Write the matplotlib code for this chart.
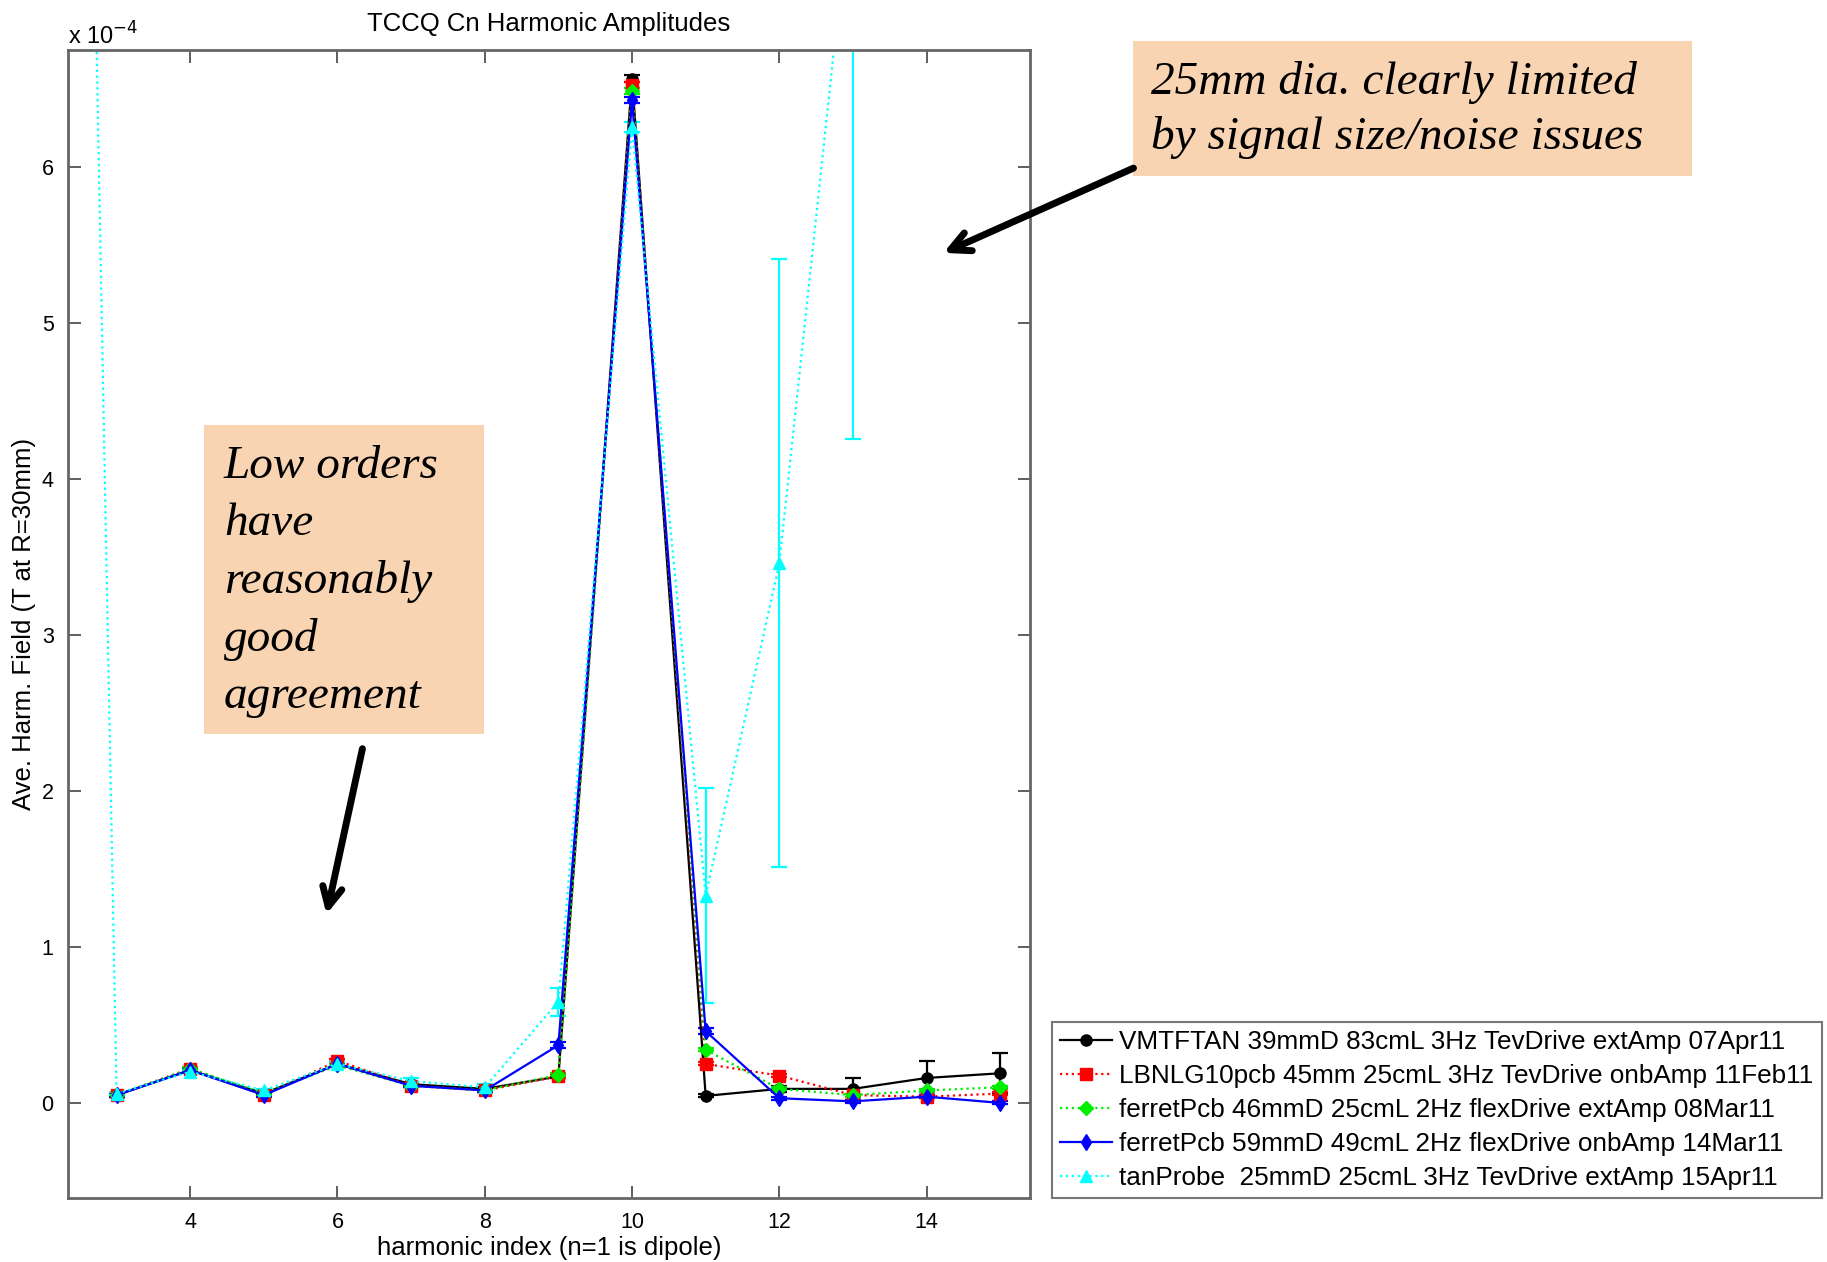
import matplotlib
matplotlib.use('Agg')
import matplotlib.pyplot as plt
from matplotlib.patches import FancyArrowPatch, Rectangle
from matplotlib.lines import Line2D

# ---------------- data (field values in units of 1e-4 T) ----------------
harmonics = [3, 4, 5, 6, 7, 8, 9, 10, 11, 12, 13, 14, 15]

vmtftan = [0.05, 0.21, 0.06, 0.25, 0.12, 0.09, 0.17, 6.57, 0.045, 0.09, 0.09, 0.16, 0.19]
vmtftan_err = [0.01, 0.01, 0.01, 0.01, 0.01, 0.01, 0.01, 0.02, 0.01, 0.02, 0.07, 0.11, 0.13]

lbnl = [0.05, 0.22, 0.05, 0.27, 0.11, 0.08, 0.17, 6.53, 0.25, 0.175, 0.05, 0.04, 0.06]
lbnl_err = [0.01, 0.01, 0.01, 0.01, 0.01, 0.01, 0.01, 0.02, 0.01, 0.01, 0.01, 0.01, 0.01]

ferret46 = [0.05, 0.22, 0.06, 0.24, 0.11, 0.08, 0.18, 6.49, 0.34, 0.09, 0.05, 0.08, 0.10]
ferret46_err = [0.01, 0.01, 0.01, 0.01, 0.01, 0.01, 0.01, 0.02, 0.01, 0.01, 0.01, 0.01, 0.01]

ferret59 = [0.05, 0.21, 0.05, 0.25, 0.11, 0.08, 0.37, 6.43, 0.46, 0.03, 0.01, 0.04, 0.00]
ferret59_err = [0.01, 0.01, 0.01, 0.01, 0.01, 0.01, 0.02, 0.02, 0.02, 0.01, 0.01, 0.01, 0.01]

tan_harmonics = [2, 3, 4, 5, 6, 7, 8, 9, 10, 11, 12, 13, 14, 15]
tanprobe = [24.8, 0.06, 0.20, 0.08, 0.25, 0.14, 0.10, 0.65, 6.26, 1.33, 3.46, 7.9, 9.6, 11.0]
tanprobe_err = [2.0, 0.01, 0.01, 0.01, 0.01, 0.02, 0.02, 0.09, 0.03, 0.69, 1.95, 3.64, 1.5, 1.8]

labels = [
    "VMTFTAN 39mmD 83cmL 3Hz TevDrive extAmp 07Apr11",
    "LBNLG10pcb 45mm 25cmL 3Hz TevDrive onbAmp 11Feb11",
    "ferretPcb 46mmD 25cmL 2Hz flexDrive extAmp 08Mar11",
    "ferretPcb 59mmD 49cmL 2Hz flexDrive onbAmp 14Mar11",
    "tanProbe  25mmD 25cmL 3Hz TevDrive extAmp 15Apr11",
]
xticks = [4, 6, 8, 10, 12, 14]
yticks = [0, 1, 2, 3, 4, 5, 6]

note_top = "25mm dia. clearly limited\nby signal size/noise issues"
note_low = "Low orders\nhave\nreasonably\ngood\nagreement"

# ---------------- figure ----------------
plt.rcParams['font.family'] = ['Liberation Sans', 'DejaVu Sans']
fig = plt.figure(figsize=(18.27, 12.62), dpi=100)
ax = fig.add_axes([0.037, 0.0507, 0.527, 0.9093])

series = [
    (harmonics, vmtftan, vmtftan_err, dict(color='black', ls='-', marker='o', ms=8)),
    (harmonics, lbnl, lbnl_err, dict(color='red', ls=':', marker='s', ms=8)),
    (harmonics, ferret46, ferret46_err, dict(color='#00ee00', ls=':', marker='D', ms=7)),
    (harmonics, ferret59, ferret59_err, dict(color='blue', ls='-', marker='d', ms=8)),
    (tan_harmonics, tanprobe, tanprobe_err, dict(color='cyan', ls=':', marker='^', ms=9)),
]
handles = []
for (x, y, e, st), lab in zip(series, labels):
    ax.errorbar(x, y, yerr=e, color=st['color'], ls=st['ls'], lw=1.6,
                marker=st['marker'], ms=st['ms'], mfc=st['color'], mec=st['color'],
                capsize=6, elinewidth=1.6, capthick=1.6)
    handles.append(Line2D([], [], color=st['color'], ls=st['ls'], lw=1.6,
                          marker=st['marker'], ms=st['ms'], mfc=st['color'],
                          mec=st['color']))

ax.set_xlim(2.335, 15.41)
ax.set_ylim(-0.61, 6.75)
ax.set_xticks(xticks)
ax.set_yticks(yticks)
ax.tick_params(direction='in', length=9, width=1.2, labelsize=15.5, top=True, right=True,
               color='#444444', pad=10)
for s in ax.spines.values():
    s.set_color('#666666')
    s.set_linewidth(2)
ax.set_title("TCCQ Cn Harmonic Amplitudes", fontsize=18.5, pad=14)
ax.set_xlabel("harmonic index (n=1 is dipole)", fontsize=18.5, labelpad=2)
ax.set_ylabel("Ave. Harm. Field (T at R=30mm)", fontsize=18.5, labelpad=4)
fig.text(0.037, 0.961, r"x 10$^{-4}$", fontsize=17, ha='left', va='bottom')

leg = fig.legend(handles=handles, labels=labels, loc='lower left',
                 bbox_to_anchor=(0.576, 0.051, 0.421, 0.137), mode='expand',
                 fontsize=18.8, frameon=True, fancybox=False, edgecolor='#555555',
                 handlelength=2.0, handletextpad=0.25, labelspacing=0.38,
                 borderaxespad=0, borderpad=0.3)
leg.get_frame().set_linewidth(1.5)

# ---------------- annotation boxes ----------------
peach = '#F9D4B3'
fig.add_artist(Rectangle((0.6201, 0.8605), 0.306, 0.107, transform=fig.transFigure,
                         facecolor=peach, edgecolor='none'))
fig.text(0.630, 0.952, note_top, transform=fig.transFigure, fontsize=34,
         family='Liberation Serif', style='italic', ha='left', va='top', linespacing=1.39)

fig.add_artist(Rectangle((0.1117, 0.4184), 0.1532, 0.2448, transform=fig.transFigure,
                         facecolor=peach, edgecolor='none'))
fig.text(0.1226, 0.647, note_low, transform=fig.transFigure, fontsize=34,
         family='Liberation Serif', style='italic', ha='left', va='top', linespacing=1.45)

# ---------------- arrows ----------------
for (x0, y0), (x1, y1) in [((0.6218, 0.8677), (0.5150, 0.7987)),
                           ((0.1987, 0.4089), (0.1784, 0.2734))]:
    fig.add_artist(FancyArrowPatch((x0, y0), (x1, y1), transform=fig.transFigure,
                                   arrowstyle='->,head_length=14,head_width=7',
                                   lw=5, color='black', mutation_scale=1))

fig.savefig('out.png', dpi=100)
